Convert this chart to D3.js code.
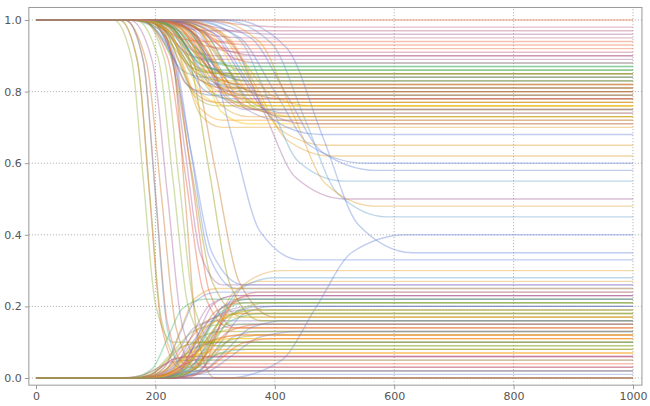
<!DOCTYPE html><html><head><script src="https://cdn.jsdelivr.net/npm/d3@7"></script>
<style>body{margin:0;background:#fff}</style></head><body><svg id="c" width="650" height="406"></svg>
<script>
const xTicks=[0,200,400,600,800,1000];
const yTicks=[0,0.2,0.4,0.6,0.8,1.0];
const ends=[0.78,0.81,0.15,0.22,0.85,0.02,0.74,0.18,0.9,0.12,
0.8,0.25,0.76,0.05,0.83,0.2,0.7,0.1,0.88,0.16,
0.79,0.0,0.73,0.23,0.86,0.14,0.6,0.08,0.95,0.19,
0.82,0.27,0.77,0.03,0.72,0.21,0.84,0.11,0.5,0.17,
0.75,0.24,0.8,0.06,0.87,0.13,0.65,0.09,0.92,0.2,
0.78,0.0,0.71,0.26,0.85,0.15,0.58,0.07,0.98,0.22,
0.81,0.3,0.76,0.04,0.83,0.18,0.45,0.12,0.89,0.16,
0.74,0.01,0.79,0.23,0.86,0.1,0.62,0.05,0.93,0.19,
0.77,0.28,0.82,0.02,0.73,0.14,0.4,0.08,0.9,0.21,
0.8,0.25,0.75,0.0,0.84,0.17,0.55,0.11,0.96,0.13,
0.78,0.33,0.72,0.06,0.87,0.2,0.48,0.09,1.0,0.15,
0.81,0.22,0.76,0.03,0.83,0.12,0.35,0.07,0.91,0.18,
0.79,0.14,0.84,0.24,0.75,0.0,0.88,0.19,0.71,0.1,
0.82,0.26,0.77,0.06,0.86,0.16,0.73,0.21,0.94,0.13,
0.8,0.02,0.76,0.23,0.85,0.11,0.68,0.17,0.97,0.08];
const starts=[1,1,0,0,1,1,1,0,1,0,1,1,1,0,1,0,1,1,1,0,
1,0,1,0,1,1,1,0,1,0,1,0,1,1,1,0,1,0,1,1,
1,0,1,0,1,0,1,1,1,0,1,0,1,1,1,0,1,0,1,0,
1,0,1,1,1,0,1,0,1,1,1,0,1,0,1,0,1,1,1,0,
1,0,1,0,1,1,0,0,1,0,1,0,1,0,1,1,1,0,1,0,
1,1,1,0,1,0,1,1,1,0,1,0,1,1,1,0,1,0,1,0,
1,0,1,0,1,1,1,0,1,0,1,1,1,0,1,0,1,0,1,0,
1,1,1,0,1,0,1,0,1,0];
const mids=[250,280,230,300,260,210,320,270,240,290,
230,260,350,200,280,310,250,180,300,240,
270,220,330,260,290,250,400,230,270,280,
240,300,260,190,310,270,220,250,380,260,
290,240,280,210,260,300,360,230,250,270,
310,170,280,250,240,290,420,260,330,220,
260,310,240,200,280,250,450,270,230,290,
300,210,260,280,250,240,370,190,280,260,
240,300,270,230,320,260,470,250,290,280,
260,240,290,220,270,300,390,260,300,250,
280,330,250,210,260,290,430,240,120,270,
250,280,300,220,240,260,480,230,270,290,
230,270,260,300,290,250,240,280,340,220,
270,260,300,240,250,320,280,300,220,330,
290,200,250,270,230,310,350,260,240,280];
const widths=[30,25,35,20,30,25,40,30,25,35,
20,30,45,25,30,35,25,20,30,25,
35,20,40,30,25,30,60,25,30,35,
25,30,35,20,40,30,25,30,55,35,
30,25,30,20,35,30,50,25,30,35,
40,20,30,25,30,35,60,30,45,25,
30,40,25,20,30,35,55,30,25,35,
40,20,30,35,25,30,50,20,30,35,
25,40,30,25,40,30,60,30,35,30,
30,25,35,20,30,40,50,30,45,25,
30,45,25,20,30,35,55,25,20,30,
25,30,40,25,30,35,60,25,30,35,
25,30,35,30,25,20,30,35,45,25,
30,35,25,30,25,40,30,35,25,45,
35,20,30,25,30,35,50,30,25,30];
const palette=["#5E81B5","#E19C24","#8FB032","#EB6235","#8778B3","#C56E1A","#5D9EC7","#FFBF00","#A5609D","#929600","#E95536","#6685D9","#F89F13","#BC5B80","#47B66D"];
const svg=d3.select("#c");
const x=d3.scaleLinear().domain([0,1000]).range([36,633]);
const y=d3.scaleLinear().domain([0,1]).range([378,20]);
const x0=x(-12),x1=x(1015),y0=y(-0.02),y1=y(1.035);
const g=svg.append("g");
xTicks.forEach(t=>{if(t>0)g.append("line").attr("x1",x(t)).attr("x2",x(t)).attr("y1",y0).attr("y2",y1).attr("stroke","#aaa").attr("stroke-dasharray","1,2");});
yTicks.forEach(t=>g.append("line").attr("x1",x0).attr("x2",x1).attr("y1",y(t)).attr("y2",y(t)).attr("stroke","#aaa").attr("stroke-dasharray","1,2"));
const line=d3.line().x(d=>x(d[0])).y(d=>y(d[1])).curve(d3.curveMonotoneX);
const lg=svg.append("g");
ends.forEach((e,i)=>{
 const s=starts[i],m=mids[i],w=widths[i],d=e-s;
 const pts=[[0,s],[Math.max(1,m-2.5*w),s],[m-w,s+0.12*d],[m,s+0.5*d],[m+w,s+0.88*d],[m+2.5*w,e],[1000,e]];
 lg.append("path").attr("d",line(pts)).attr("fill","none").attr("stroke",palette[i%palette.length]).attr("stroke-opacity",0.4).attr("stroke-width",1.4);
});
svg.append("rect").attr("x",x0).attr("y",y1).attr("width",x1-x0).attr("height",y0-y1).attr("fill","none").attr("stroke","#999");
svg.append("g").attr("transform",`translate(0,${y0})`).call(d3.axisBottom(x).tickValues(xTicks).tickSize(4).tickFormat(d3.format("d"))).call(a=>{a.select(".domain").remove();a.selectAll("line").attr("stroke","#999");a.selectAll("text").attr("fill","#555").style("font","11px 'DejaVu Sans'");});
svg.append("g").attr("transform",`translate(${x0},0)`).call(d3.axisLeft(y).tickValues(yTicks).tickSize(4).tickFormat(d3.format(".1f"))).call(a=>{a.select(".domain").remove();a.selectAll("line").attr("stroke","#999");a.selectAll("text").attr("fill","#555").style("font","11px 'DejaVu Sans'");});
</script></body></html>
